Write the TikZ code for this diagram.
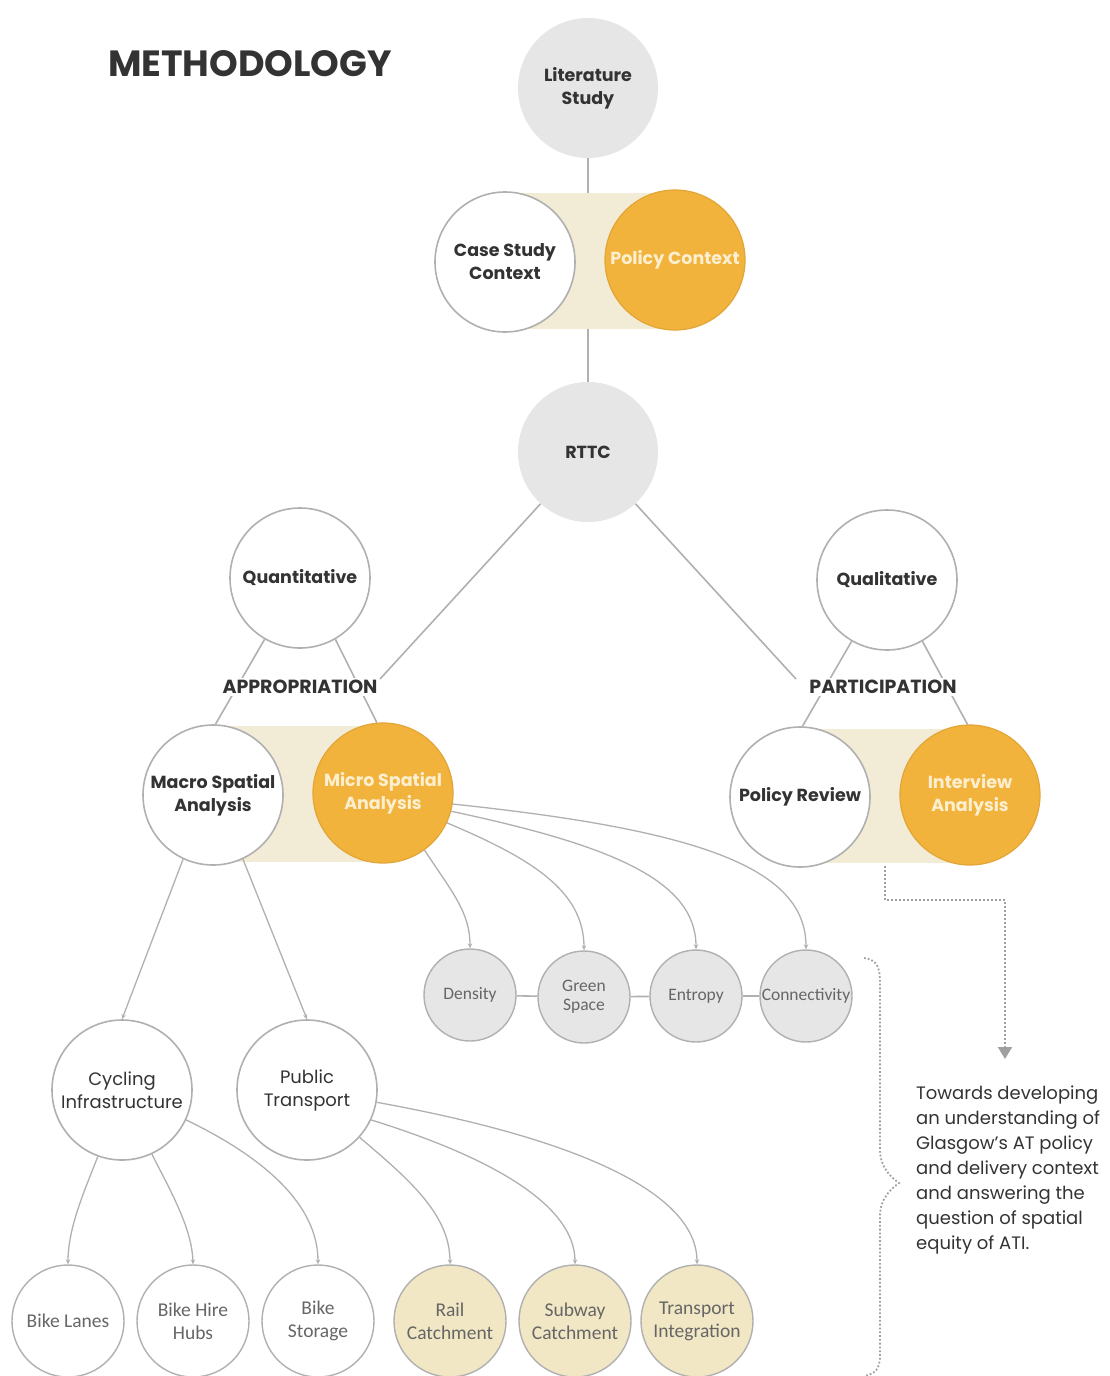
\documentclass[tikz,border=0pt]{standalone}
\usepackage{fontspec}
\setmainfont{Poppins}
\newfontfamily\leaffont{Carlito}
\usetikzlibrary{arrows.meta,calc,backgrounds}
\definecolor{edge}{HTML}{B0B0B0}
\definecolor{ink}{HTML}{333333}
\definecolor{soft}{HTML}{666666}
\definecolor{greyfill}{HTML}{E6E6E6}
\definecolor{amber}{HTML}{F2B33D}
\definecolor{amberline}{HTML}{E2A536}
\definecolor{sand}{HTML}{F2EBD5}
\definecolor{leafsand}{HTML}{F1E7C5}
\definecolor{paletext}{HTML}{FCEFD0}
\definecolor{dots}{HTML}{A0A0A0}

\begin{document}
\begin{tikzpicture}[x=1pt,y=-1pt,
  big/.style={circle,minimum size=140pt,inner sep=0pt,align=center,
    font=\fontsize{17.5}{23}\selectfont\bfseries,text=ink},
  open/.style={big,draw=edge,line width=1.6pt,fill=white},
  hub/.style={big,fill=greyfill},
  hot/.style={big,draw=amberline,line width=1.2pt,fill=amber,text=paletext},
  theme/.style={open,font=\fontsize{18}{23}\selectfont},
  small/.style={circle,minimum size=92pt,inner sep=0pt,align=center,draw=edge,
    line width=1.4pt,fill=greyfill,font=\leaffont\fontsize{17.5}{19}\selectfont,text=soft},
  leaf/.style={circle,minimum size=112pt,inner sep=0pt,align=center,draw=edge,
    line width=1.4pt,fill=white,font=\leaffont\fontsize{19.5}{23}\selectfont,text=soft},
  leafs/.style={leaf,fill=leafsand},
  link/.style={draw=edge,line width=1.6pt},
  arr/.style={draw=edge,line width=1.3pt,-{Stealth[length=5pt,width=4.5pt]}},
  tag/.style={fill=white,inner sep=2pt,font=\fontsize{19}{21}\selectfont\bfseries,text=ink},
  band/.style={fill=sand}
]
\useasboundingbox (0,0) rectangle (1110,1376);

% title
\node[font=\fontsize{36.5}{40}\selectfont\bfseries,text=ink] (title) at (250,64) {METHODOLOGY};

% main spine
\node[hub] (lit) at (588,88) {Literature\\Study};
\node[open] (cs) at (505,262) {Case Study\\Context};
\node[hot] (pc) at (675,260) {\makebox[0pt]{Policy Context}};
\node[hub] (rttc) at (588,452) {RTTC};

% quantitative branch
\node[open] (quant) at (300,578) {Quantitative};
\node[tag] (appr) at (300,687) {APPROPRIATION};
\node[open] (macro) at (213,795) {\makebox[0pt]{Macro Spatial}\\Analysis};
\node[hot] (micro) at (383,793) {\makebox[0pt]{Micro Spatial}\\Analysis};

% qualitative branch
\node[open] (qual) at (887,580) {Qualitative};
\node[tag] (part) at (883,687) {PARTICIPATION};
\node[open] (prev) at (800,797) {\makebox[0pt]{Policy Review}};
\node[hot] (intv) at (970,795) {Interview\\Analysis};

% micro indicators
\node[small] (dens) at (470,995) {Density};
\node[small] (gs) at (584,997) {Green\\Space};
\node[small] (ent) at (696,996) {Entropy};
\node[small] (con) at (806,996) {\makebox[0pt]{Connectivity}};

% macro themes
\node[theme] (cyc) at (122,1090) {Cycling\\\makebox[0pt]{Infrastructure}};
\node[theme] (pt) at (307,1090) {Public\\Transport};

% leaves
\node[leaf] (lanes) at (68,1321) {Bike Lanes};
\node[leaf] (hire) at (193,1321) {Bike Hire\\Hubs};
\node[leaf] (store) at (318,1321) {Bike\\Storage};
\node[leafs] (rail) at (450,1321) {Rail\\\makebox[0pt]{Catchment}};
\node[leafs] (sub) at (575,1321) {Subway\\\makebox[0pt]{Catchment}};
\node[leafs] (integ) at (697,1321) {Transport\\\makebox[0pt]{Integration}};

% closing statement
\node[anchor=north west,align=left,inner sep=0pt,text=ink,
  font=\fontsize{18}{25}\selectfont] (note) at (916,1086)
  {Towards developing\\an understanding of\\Glasgow’s AT policy\\and delivery context\\and answering the\\question of spatial\\equity of ATI.};

\coordinate (rl) at (380,679);
\coordinate (rr) at (796,679);
\coordinate (pb) at (885,866);
\coordinate (tip) at (1005,1059);

\begin{pgfonlayer}{background}
  \draw[link] (lit) -- (rttc);
  \fill[band] ($(cs.center)+(0,-69)$) rectangle ($(pc.center)+(0,69)$);
  \fill[band] ($(macro.center)+(0,-69)$) rectangle ($(micro.center)+(0,69)$);
  \fill[band] ($(prev.center)+(0,-68)$) rectangle ($(intv.center)+(0,68)$);

  \draw[link] (rttc) -- (rl);
  \draw[link] (rttc) -- (rr);
  \draw[link] (quant.240) -- (macro.88);
  \draw[link] (quant.300) -- (micro.95);
  \draw[link] (qual.240) -- (prev.88);
  \draw[link] (qual.300) -- (intv.92);

  \draw[link] (dens) -- (gs) -- (ent) -- (con);
\end{pgfonlayer}

% macro to themes
\draw[arr] (macro.245) -- (cyc.north);
\draw[arr] (macro.295) -- (pt.north);

% micro to indicators
\draw[arr] (micro.-54) .. controls (452,892) and (470,912) .. (dens.north);
\draw[arr] (micro.-25) .. controls (530,858) and (584,890) .. (gs.north);
\draw[arr] (micro.-15) .. controls (610,845) and (696,880) .. (ent.north);
\draw[arr] (micro.-9) .. controls (700,830) and (806,868) .. (con.north);

% themes to leaves
\draw[arr] (cyc.250) .. controls (84,1192) and (68,1228) .. (lanes.north);
\draw[arr] (cyc.295) .. controls (170,1190) and (192,1228) .. (hire.north);
\draw[arr] (cyc.335) .. controls (265,1158) and (318,1205) .. (store.north);
\draw[arr] (pt.318) .. controls (410,1180) and (450,1215) .. (rail.north);
\draw[arr] (pt.335) .. controls (500,1160) and (575,1208) .. (sub.north);
\draw[arr] (pt.350) .. controls (585,1140) and (697,1195) .. (integ.north);

% path to the closing statement
\draw[draw=dots,line width=2pt,dotted,-{Triangle[width=14pt,length=12pt]}]
  (pb) -- ++(0,34) -| (tip);

% dotted brace grouping the analyses
\draw[draw=dots,line width=1.8pt,dotted]
  (864,958) .. controls (878,960) and (880,968) .. (880,985) -- (880,1150)
  .. controls (880,1168) and (892,1178) .. (899,1183)
  .. controls (892,1188) and (880,1198) .. (880,1216) -- (880,1355)
  .. controls (880,1368) and (876,1374) .. (864,1376);
\end{tikzpicture}
\end{document}
